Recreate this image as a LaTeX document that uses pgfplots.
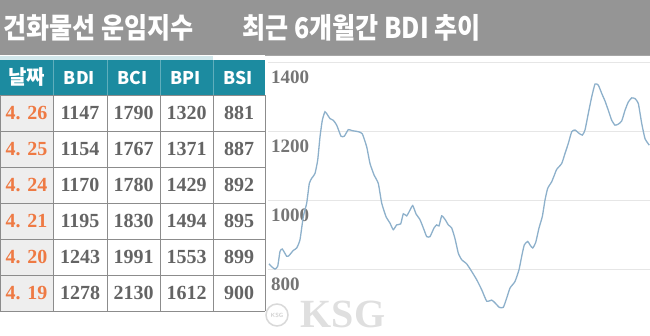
\documentclass[border=0pt]{standalone}
\usepackage{pgfplots}
\pgfplotsset{compat=1.18}
\usepackage{fontspec}
\setmainfont{Liberation Serif}
\newfontfamily\kr{Noto Sans CJK KR}
\definecolor{hdrgray}{HTML}{959595}
\definecolor{teal1}{HTML}{1C8BA0}
\definecolor{datec}{HTML}{EE7A44}
\definecolor{valc}{HTML}{646464}
\definecolor{labc}{HTML}{757575}
\definecolor{gridc}{HTML}{E6E6E6}
\definecolor{linec}{HTML}{8DB0CB}
\definecolor{tline}{HTML}{8C8C8C}
\definecolor{datebg}{HTML}{EEEEEE}
\begin{document}
\begin{tikzpicture}[x=1pt,y=1pt]
\useasboundingbox (0,0) rectangle (650,336);
\fill[white] (0,0) rectangle (650,336);
% header
\fill[hdrgray] (0,281) rectangle (650,336);
\fill[teal1!20] (0,276) rectangle (213,280);
\node[anchor=west,inner sep=0pt,text=white] at (3,308)
  {\scalebox{0.88}[1]{\kr\bfseries\fontsize{28.5}{30}\selectfont 건화물선 운임지수}};
\node[anchor=west,inner sep=0pt,text=white] at (242,308)
  {\scalebox{0.88}[1]{\kr\bfseries\fontsize{28.5}{30}\selectfont 최근 6개월간 BDI 추이}};
% table
\fill[teal1] (0,241) rectangle (265,276);
\fill[datebg] (0,25) rectangle (53,241);
\foreach \y in {241,205,169,133,97,61,25} \draw[tline,line width=0.9pt] (0,\y) -- (265,\y);
\foreach \x in {0,53,107,160,213,265} \draw[tline,line width=0.9pt] (\x,25) -- (\x,241);
\foreach \x in {53,107,160,213} \draw[teal1!70!white,line width=0.6pt] (\x,241) -- (\x,276);
\node[text=white,inner sep=0pt] at (26.5,258.5) {\kr\bfseries\fontsize{20}{22}\selectfont 날짜};
\foreach \t [count=\i] in {BDI,BCI,BPI,BSI}
  \node[text=white,inner sep=0pt] at (26.5+53*\i,258.5) {\kr\bfseries\fontsize{17.5}{19}\selectfont \t};
\foreach \d/\a/\b/\c/\e [count=\r] in {4. 26/1147/1790/1320/881, 4. 25/1154/1767/1371/887, 4. 24/1170/1780/1429/892, 4. 21/1195/1830/1494/895, 4. 20/1243/1991/1553/899, 4. 19/1278/2130/1612/900}{
  \pgfmathsetmacro{\yy}{241-36*\r+18}
  \node[text=datec,inner sep=0pt] at (26.5,\yy) {\bfseries\fontsize{20}{22}\selectfont \d};
  \node[text=valc,inner sep=0pt] at (80,\yy) {\bfseries\fontsize{20}{22}\selectfont \a};
  \node[text=valc,inner sep=0pt] at (133.5,\yy) {\bfseries\fontsize{20}{22}\selectfont \b};
  \node[text=valc,inner sep=0pt] at (186.5,\yy) {\bfseries\fontsize{20}{22}\selectfont \c};
  \node[text=valc,inner sep=0pt] at (239,\yy) {\bfseries\fontsize{20}{22}\selectfont \e};
}
% chart
\begin{axis}[at={(268pt,0pt)}, anchor=south west, scale only axis,
  width=382pt, height=280pt,
  xmin=268, xmax=650, ymin=606, ymax=1417.4,
  axis line style={draw=none},
  xtick=\empty, ytick={800,1000,1200,1400},
  yticklabels={800,1000,1200,1400},
  ymajorgrids, grid style={gridc,line width=0.8pt},
  major tick length=0pt,
  /pgf/number format/assume math mode=true,
  yticklabel style={anchor=north west, inner sep=0pt, xshift=3pt, yshift=-9pt,
    font=\bfseries\fontsize{19}{21}\selectfont, text=labc},
  clip=false]
\addplot[linec, line width=1.3pt, smooth, tension=0.3] coordinates {
(269,815)(272,806)(275,800)(277.7,808)(280,851)(282.3,858)(286.7,837)(289,839)
(293.3,854)(296.7,861)(300,885)(303.3,952)(306.7,991)(309.3,1048)(311.7,1063)
(315,1077)(317.7,1116)(320,1183)(322.3,1231)(325,1256)(327.7,1246)(330,1236)
(333.3,1231)(336.7,1217)(341,1185)(344.3,1185)(348.3,1204)(352.3,1201)(358.3,1198)
(362.3,1192)(366.7,1154)(370,1106)(374,1073)(378.3,1048)(381.7,991)(386,952)
(390,933)(393.3,914)(396.7,928)(400.7,931)(403.3,960)(406.7,954)(409.3,967)
(412.7,984)(416,960)(420,943)(424,914)(426.7,894)(430,894)(434,919)(436.7,928)
(439,925)(441.7,954)(445,944)(448.3,928)(451.7,919)(455,888)(458.3,846)(461.7,827)
(466.7,815)(471.7,793)(476.7,769)(481.7,740)(486.7,707)(491.7,710)(495,702)
(499.3,689)(503.3,689)(506.7,716)(510,745)(515,764)(519,798)(521.7,837)(524.3,870)
(527.7,880)(530,870)(532.7,861)(535.7,877)(539,919)(542.3,952)(545,1000)(547.7,1034)
(551.7,1053)(555,1077)(556.7,1089)(561.7,1106)(565,1135)(568.3,1164)(571.7,1198)
(575,1203)(578.3,1195)(582.3,1188)(585,1203)(588.3,1251)(591.7,1299)(595,1336)
(598.3,1333)(601.7,1309)(605,1287)(608.3,1260)(611.7,1231)(615,1217)(618.3,1220)
(621.7,1229)(625,1260)(628.3,1284)(631.7,1296)(635,1294)(638.3,1280)(641.7,1222)
(645,1178)(649.3,1159)};
\end{axis}
\draw[gray!70,line width=0.8pt] (265,280.5) -- (650,280.5);
% watermark
\draw[gray!30,line width=1.5pt,fill=white] (277,21) circle (11);
\node[text=gray!35,inner sep=0pt] at (277,21) {\sffamily\bfseries\fontsize{6}{7}\selectfont KSG};
\node[anchor=base,text=gray!25,inner sep=0pt] at (343,8) {\bfseries\fontsize{40}{42}\selectfont KSG};
\end{tikzpicture}
\end{document}
